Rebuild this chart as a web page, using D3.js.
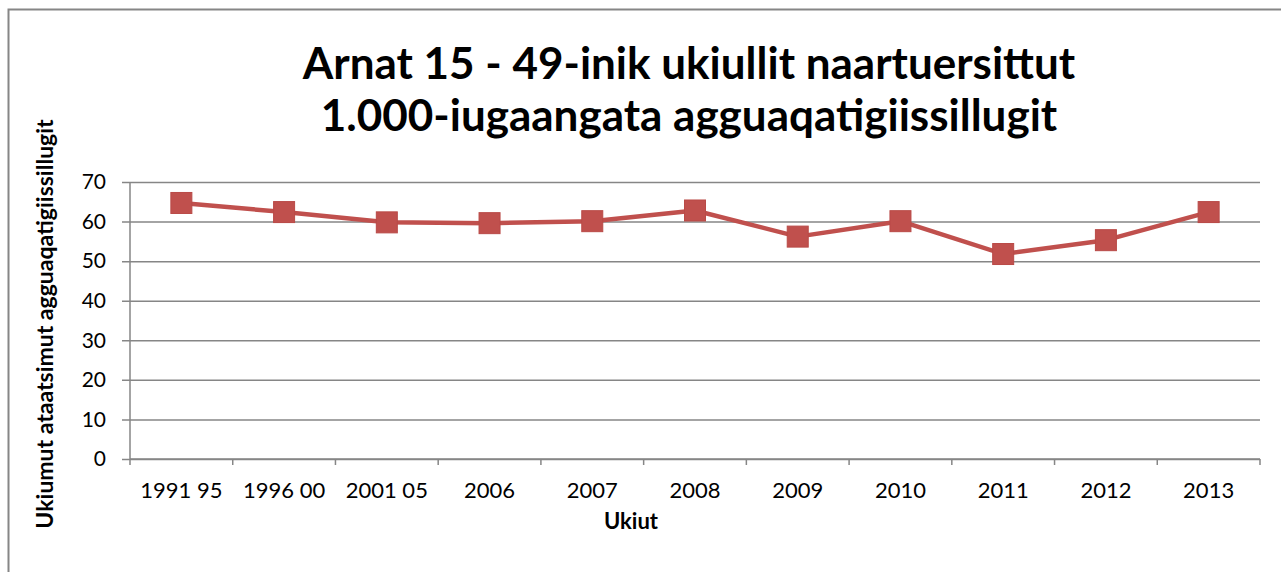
<!DOCTYPE html>
<html>
<head>
<meta charset="utf-8">
<script src="https://cdn.jsdelivr.net/npm/d3@7"></script>
<style>
  body { margin: 0; background: #fff; }
  svg { display: block; font-family: Lato, "Open Sans", sans-serif; }
</style>
</head>
<body>
<svg width="1281" height="572"></svg>
<script>
let svg = d3.select("svg"),
    width = +svg.attr("width"),
    height = +svg.attr("height");

let categories = ["1991 95", "1996 00", "2001 05", "2006", "2007", "2008", "2009", "2010", "2011", "2012", "2013"];
let values = [64.7, 62.4, 59.8, 59.6, 60.1, 62.8, 56.2, 60.1, 51.8, 55.3, 62.4];
let yTicks = [0, 10, 20, 30, 40, 50, 60, 70];
let titleLines = ["Arnat 15 - 49-inik ukiullit naartuersittut", "1.000-iugaangata agguaqatigiissillugit"];

let margin = { left: 130, right: 21, top: 182, bottom: 113 };

let x = d3.scaleBand()
    .domain(categories)
    .range([margin.left, width - margin.right]);

let y = d3.scaleLinear()
    .domain([0, 70])
    .range([height - margin.bottom, margin.top]);

// chart frame (only top/left visible)
svg.append("rect")
    .attr("x", 8.5).attr("y", 9.5)
    .attr("width", width + 20).attr("height", height + 20)
    .attr("fill", "none")
    .attr("stroke", "#868686")
    .attr("stroke-width", 2);

// title
svg.append("g")
    .selectAll("text")
    .data(titleLines)
    .enter().append("text")
        .attr("x", 689)
        .attr("y", (d, i) => 79 + i * 52)
        .attr("text-anchor", "middle")
        .attr("font-size", 44)
        .attr("font-weight", "bold")
        .attr("fill", "#000")
        .text(d => d);

// gridlines + y axis
let yAxis = d3.axisLeft(y)
    .tickValues(yTicks)
    .tickSize(-(width - margin.left - margin.right))
    .tickPadding(24);

let gy = svg.append("g")
    .attr("transform", `translate(${margin.left},0)`)
    .call(yAxis);

gy.select(".domain").remove();
gy.selectAll(".tick line")
    .attr("x1", -8)
    .attr("stroke", "#868686")
    .attr("stroke-width", 1.5);
gy.selectAll(".tick text")
    .attr("font-size", 21)
    .attr("font-family", "Lato, sans-serif")
    .attr("fill", "#000");

svg.append("line")
    .attr("x1", margin.left).attr("x2", margin.left)
    .attr("y1", y(70)).attr("y2", y(0) + 6)
    .attr("stroke", "#868686")
    .attr("stroke-width", 1.5);

// x axis
let gx = svg.append("g")
    .attr("transform", `translate(0,${y(0)})`);

gx.append("line")
    .attr("x1", margin.left).attr("x2", width - margin.right)
    .attr("stroke", "#868686")
    .attr("stroke-width", 1.5);

gx.selectAll("line.tick")
    .data(categories)
    .enter().append("line")
        .attr("class", "tick")
        .attr("x1", d => x(d) + x.bandwidth())
        .attr("x2", d => x(d) + x.bandwidth())
        .attr("y1", 0).attr("y2", 6)
        .attr("stroke", "#868686")
        .attr("stroke-width", 1.5);

gx.selectAll("text")
    .data(categories)
    .enter().append("text")
        .attr("x", d => x(d) + x.bandwidth() / 2)
        .attr("y", 39)
        .attr("text-anchor", "middle")
        .attr("font-size", 22)
        .attr("fill", "#000")
        .text(d => d);

// axis titles
svg.append("text")
    .attr("x", 631)
    .attr("y", 529)
    .attr("text-anchor", "middle")
    .attr("font-size", 22)
    .attr("font-weight", "bold")
    .text("Ukiut");

svg.append("text")
    .attr("transform", "translate(53,324) rotate(-90)")
    .attr("text-anchor", "middle")
    .attr("font-size", 23)
    .attr("font-weight", "bold")
    .text("Ukiumut ataatsimut agguaqatigiissillugit");

// series
let line = d3.line()
    .x((d, i) => x(categories[i]) + x.bandwidth() / 2)
    .y(d => y(d));

svg.append("path")
    .datum(values)
    .attr("d", line)
    .attr("fill", "none")
    .attr("stroke", "#C0504D")
    .attr("stroke-width", 4.5)
    .attr("stroke-linejoin", "round");

svg.append("g")
    .selectAll("rect")
    .data(values)
    .enter().append("rect")
        .attr("x", (d, i) => x(categories[i]) + x.bandwidth() / 2 - 10.5)
        .attr("y", d => y(d) - 10.5)
        .attr("width", 21)
        .attr("height", 21)
        .attr("fill", "#C0504D")
        .attr("stroke", "#B94A47")
        .attr("stroke-width", 1);
</script>
</body>
</html>
